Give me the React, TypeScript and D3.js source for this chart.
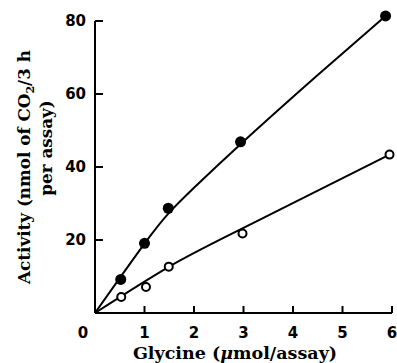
import React from "react";
import * as d3 from "d3";

const xTicks = [0, 1, 2, 3, 4, 5, 6];
const yTicks = [20, 40, 60, 80];

// Measured points
const filledX = [0.52, 1.0, 1.48, 2.94, 5.87];
const filledY = [9.2, 19.1, 28.7, 46.9, 81.4];
const openX = [0.53, 1.03, 1.49, 2.98, 5.95];
const openY = [4.4, 7.1, 12.7, 21.8, 43.4];

// Fitted curves
const filledCurveX = [0, 1, 1.5, 2, 3, 4.5, 5.87];
const filledCurveY = [0, 19, 27.5, 34.3, 47, 65.2, 81.4];
const openCurveX = [0, 1.5, 3, 5.95];
const openCurveY = [0, 12.7, 23.3, 43.4];

export default function App() {
  const W = 397, H = 363;
  const x = d3.scaleLinear().domain([0, 6]).range([95, 392]);
  const y = d3.scaleLinear().domain([0, 80]).range([313, 21]);
  const line = d3
    .line<[number, number]>()
    .x((d) => x(d[0]))
    .y((d) => y(d[1]))
    .curve(d3.curveNatural);
  const fc = line(filledCurveX.map((v, i) => [v, filledCurveY[i]]) as [number, number][]) || "";
  const oc = line(openCurveX.map((v, i) => [v, openCurveY[i]]) as [number, number][]) || "";
  const tickFont = "'DejaVu Sans', sans-serif";
  const titleFont = "'DejaVu Serif', serif";
  return (
    <svg
      width={W}
      height={H}
      style={{ position: "absolute", left: 0, top: 0, background: "#fff" }}
    >
      {/* axes */}
      <line x1={x(0)} x2={x(0)} y1={y(0)} y2={y(80)} stroke="#000" strokeWidth={2} />
      <line x1={x(0)} x2={x(6)} y1={y(0)} y2={y(0)} stroke="#000" strokeWidth={2} />
      {yTicks.map((t) => (
        <g key={"y" + t}>
          <line x1={x(0)} x2={x(0) + 8} y1={y(t)} y2={y(t)} stroke="#000" strokeWidth={2} />
          <text
            x={x(0) - 9}
            y={y(t)}
            dy="0.36em"
            textAnchor="end"
            fontFamily={tickFont}
            fontWeight="bold"
            fontSize={15}
          >
            {t}
          </text>
        </g>
      ))}
      {xTicks.map((t) => (
        <g key={"x" + t}>
          {t > 0 && (
            <line x1={x(t)} x2={x(t)} y1={y(0)} y2={y(0) - 7} stroke="#000" strokeWidth={2} />
          )}
          <text
            x={t === 0 ? x(0) - 12 : x(t)}
            y={338}
            textAnchor="middle"
            fontFamily={tickFont}
            fontWeight="bold"
            fontSize={15}
          >
            {t}
          </text>
        </g>
      ))}
      {/* curves */}
      <path d={fc} fill="none" stroke="#000" strokeWidth={2} />
      <path d={oc} fill="none" stroke="#000" strokeWidth={2} />
      {filledX.map((v, i) => (
        <circle key={"f" + i} cx={x(v)} cy={y(filledY[i])} r={5.5} fill="#000" />
      ))}
      {openX.map((v, i) => (
        <circle
          key={"o" + i}
          cx={x(v)}
          cy={y(openY[i])}
          r={4}
          fill="#fff"
          stroke="#000"
          strokeWidth={2}
        />
      ))}
      {/* titles */}
      <text
        x={235}
        y={359}
        textAnchor="middle"
        fontFamily={titleFont}
        fontWeight="bold"
        fontSize={17.5}
      >
        Glycine (<tspan fontStyle="italic">μ</tspan>mol/assay)
      </text>
      <text
        transform="translate(30,167) rotate(-90)"
        textAnchor="middle"
        fontFamily={titleFont}
        fontWeight="bold"
        fontSize={16.8}
      >
        Activity (nmol of CO<tspan fontSize={11} dy={4}>2</tspan>
        <tspan dy={-4}>/3 h</tspan>
      </text>
      <text
        transform="translate(52,148) rotate(-90)"
        textAnchor="middle"
        fontFamily={titleFont}
        fontWeight="bold"
        fontSize={16.8}
      >
        per assay)
      </text>
    </svg>
  );
}
